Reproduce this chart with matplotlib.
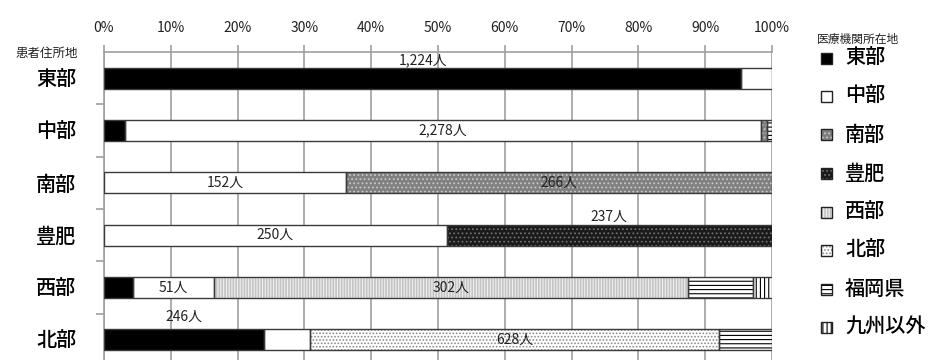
import matplotlib
matplotlib.use('Agg')
import matplotlib.pyplot as plt
from matplotlib.patches import Rectangle
import numpy as np

plt.rcParams['font.family'] = ['Noto Sans CJK JP', 'DejaVu Sans']
plt.rcParams['hatch.linewidth'] = 0.8

# patient residence (rows) and hospital location (segments)
residences = ['東部', '中部', '南部', '豊肥', '西部', '北部']
destinations = ['東部', '中部', '南部', '豊肥', '西部', '北部', '福岡県', '九州以外']

# share of patients (%) by hospital location, one list per destination
share_tobu   = [95.4, 3.1, 0.0, 0.0, 4.4, 24.0]
share_chubu  = [4.6, 95.2, 36.3, 51.3, 12.0, 6.8]
share_nanbu  = [0.0, 0.9, 63.7, 0.0, 0.0, 0.0]
share_hohi   = [0.0, 0.0, 0.0, 48.7, 0.0, 0.0]
share_seibu  = [0.0, 0.0, 0.0, 0.0, 71.0, 0.0]
share_hokubu = [0.0, 0.0, 0.0, 0.0, 0.0, 61.3]
share_fukuoka = [0.0, 0.8, 0.0, 0.0, 9.8, 7.9]
share_other  = [0.0, 0.0, 0.0, 0.0, 2.8, 0.0]
shares = [share_tobu, share_chubu, share_nanbu, share_hohi, share_seibu,
          share_hokubu, share_fukuoka, share_other]

# data labels: row index, segment index, text
label_rows = [0, 1, 2, 2, 3, 3, 4, 4, 5, 5]
label_cols = [0, 1, 1, 2, 1, 3, 1, 4, 0, 5]
label_texts = ['1,224人', '2,278人', '152人', '266人', '250人', '237人',
               '51人', '302人', '246人', '628人']
label_dy = [-0.35, 0, 0, 0, 0, -0.35, 0, 0, -0.44, 0]

# fill styles (face, hatch, hatch colour)
faces = ['black', 'white', '#808080', '#1a1a1a', '#c4c4c4', 'white', 'white', 'white']
hatches = [None, None, '....', '....', '||||||', '.....', '----', '||||']
hatch_cols = ['black', 'white', '#c8c8c8', '#707070', '#efefef', '#8a8a8a', 'black', 'black']

fig = plt.figure(figsize=(9.36, 3.6), dpi=100)
ax = fig.add_axes([104 / 936, 1 - 366 / 360, 668 / 936, 314 / 360])

y = np.arange(len(residences))
left = np.zeros(len(residences))
for j in range(len(destinations)):
    vals = np.array(shares[j])
    m = vals > 0
    if m.any():
        ax.barh(y[m], vals[m], left=left[m], height=0.4, color=faces[j],
                edgecolor=hatch_cols[j], hatch=hatches[j], linewidth=0, zorder=3)
        ax.barh(y[m], vals[m], left=left[m], height=0.4, fill=False,
                edgecolor='#3a3a3a', linewidth=1.0, zorder=4)
    left = left + vals

starts = np.vstack([np.zeros(len(residences)), np.cumsum(shares, axis=0)[:-1]])
for r, c, t, dy in zip(label_rows, label_cols, label_texts, label_dy):
    xc = starts[c][r] + shares[c][r] / 2
    ax.text(xc, r + dy, t, ha='center', va='center', fontsize=10,
            color='#222222', zorder=5)

ax.set_xlim(0, 100)
ax.set_ylim(len(residences) - 0.5, -0.5)
ax.xaxis.tick_top()
ax.set_xticks(np.arange(0, 101, 10))
ax.set_xticklabels([f'{v}%' for v in range(0, 101, 10)], fontsize=10, color='#222222')
ax.tick_params(axis='x', length=5, width=1.2, color='#a0a0a0', pad=7)
ax.set_yticks(np.arange(0.5, len(residences) - 0.5, 1))
ax.set_yticklabels([])
ax.set_yticks(y, minor=True)
ax.set_yticklabels(residences, minor=True, fontsize=14.5, fontweight='medium')
ax.tick_params(axis='y', which='major', length=6, width=1.2, color='#a0a0a0')
ax.tick_params(axis='y', which='minor', length=0, pad=20)
ax.grid(axis='x', color='#a0a0a0', linewidth=1.2, zorder=0)
ax.set_axisbelow(True)
for s in ['right', 'bottom']:
    ax.spines[s].set_visible(False)
for s in ['top', 'left']:
    ax.spines[s].set_color('#a0a0a0')
    ax.spines[s].set_linewidth(1.2)

fig.text(78 / 936, 1 - 53 / 360, '患者住所地', ha='right', va='center',
         fontsize=9, color='#222222')

# legend drawn by hand
fig.text(817 / 936, 1 - 39 / 360, '医療機関所在地', ha='left', va='center',
         fontsize=8.5, color='#222222')
for i, name in enumerate(destinations):
    yc = 58 + 38.5 * i
    fig.add_artist(Rectangle((821 / 936, 1 - (yc + 5.5) / 360), 11 / 936, 11 / 360,
                             facecolor=faces[i], edgecolor=hatch_cols[i],
                             hatch=hatches[i], linewidth=0, transform=fig.transFigure))
    fig.add_artist(Rectangle((821 / 936, 1 - (yc + 5.5) / 360), 11 / 936, 11 / 360,
                             fill=False, edgecolor='#222222', linewidth=1.0,
                             transform=fig.transFigure))
    fig.text(845 / 936, 1 - yc / 360, name, ha='left', va='center',
             fontsize=14.5, fontweight='medium', color='black')

fig.savefig('out.png', dpi=100)
